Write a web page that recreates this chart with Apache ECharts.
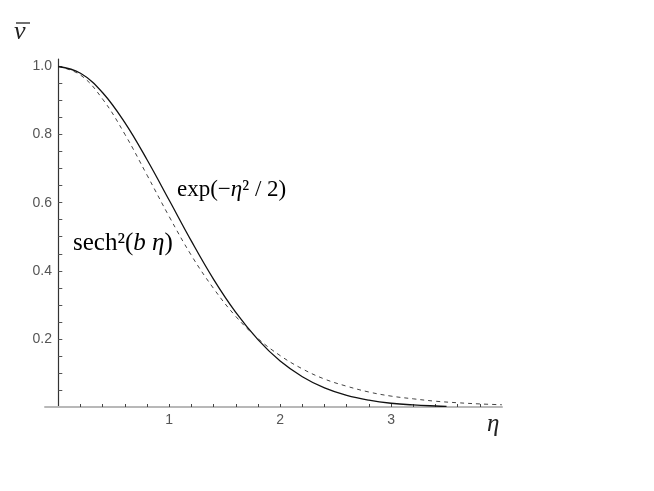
<!DOCTYPE html>
<html><head><meta charset="utf-8">
<script src="https://cdn.jsdelivr.net/npm/echarts@6/dist/echarts.min.js"></script>
<style>html,body{margin:0;padding:0;background:#fff}#c{width:654px;height:491px}</style>
</head><body><div id="c"></div>
<script>
// eta positions and curve values
const etaSolid = [0,0.2,0.4,0.6,0.8,1.0,1.2,1.4,1.6,1.8,2.0,2.2,2.4,2.6,2.8,3.0,3.2,3.4,3.5];
const expValues = [1.0,0.980,0.923,0.835,0.726,0.607,0.487,0.375,0.278,0.198,0.135,0.089,0.056,0.034,0.020,0.011,0.006,0.003,0.002];
const etaDashed = [0,0.2,0.4,0.6,0.8,1.0,1.2,1.4,1.6,1.8,2.0,2.2,2.4,2.6,2.8,3.0,3.2,3.4,3.6,3.8,4.0];
const sechValues = [1.0,0.975,0.904,0.801,0.681,0.559,0.445,0.348,0.266,0.201,0.151,0.112,0.082,0.061,0.044,0.032,0.024,0.017,0.0125,0.009,0.0066];
const xTickValues = [0.2,0.4,0.6,0.8,1,1.2,1.4,1.6,1.8,2,2.2,2.4,2.6,2.8,3,3.2,3.4,3.6,3.8];
const xLabelValues = [1,2,3];
const yTickValues = [0.05,0.1,0.15,0.2,0.25,0.3,0.35,0.4,0.45,0.5,0.55,0.6,0.65,0.7,0.75,0.8,0.85,0.9,0.95,1.0];
const yLabelValues = [0.2,0.4,0.6,0.8,1.0];

const chart = echarts.init(document.getElementById('c'), null, {renderer:'canvas'});
const zip = (xs, ys) => xs.map((x,i)=>[x, ys[i]]);
chart.setOption({
  animation:false,
  backgroundColor:'#fff',
  grid:{left:45, top:59, width:457, height:348},
  xAxis:{
    type:'value', min:-0.12, max:4.0,
    axisLine:{onZero:true, lineStyle:{color:'#b8b8b8', width:2}},
    axisTick:{show:true, inside:true, length:3, customValues:xTickValues, lineStyle:{color:'#444', width:1}},
    axisLabel:{show:true, customValues:xLabelValues, margin:6, color:'#555', fontSize:14, fontFamily:'Liberation Sans', formatter:v=>String(Math.round(v))},
    splitLine:{show:false}
  },
  yAxis:{
    type:'value', min:0, max:1.022,
    axisLine:{show:true, onZero:true, lineStyle:{color:'#333', width:1.2}},
    axisTick:{show:true, inside:true, length:4, customValues:yTickValues, lineStyle:{color:'#555', width:1}},
    axisLabel:{show:true, customValues:yLabelValues, margin:-7, color:'#555', fontSize:14, fontFamily:'Liberation Sans', formatter:v=>v.toFixed(1)},
    splitLine:{show:false}
  },
  series:[
    {type:'line', data:zip(etaDashed, sechValues), smooth:0.4, showSymbol:false,
     lineStyle:{color:'#444', width:1, type:[4,4]}},
    {type:'line', data:zip(etaSolid, expValues), smooth:0.4, showSymbol:false,
     lineStyle:{color:'#111', width:1.3}}
  ],
  graphic:[
    {type:'line', shape:{x1:16, y1:23, x2:30, y2:23}, style:{stroke:'#222', lineWidth:1.3}},
    {type:'text', style:{x:14, y:32, text:'ν', font:'italic 26px "Liberation Serif"', fill:'#222', verticalAlign:'middle'}},
    {type:'text', style:{x:487, y:424, text:'η', font:'italic 25px "Liberation Serif"', fill:'#222', verticalAlign:'middle'}},
    {type:'text', style:{x:177, y:190, text:'{n|exp(−}{i|η}{n|² / 2)}', verticalAlign:'middle', rich:{
      n:{fontFamily:'Liberation Serif', fontSize:23, color:'#111'},
      i:{fontFamily:'Liberation Serif', fontSize:23, fontStyle:'italic', color:'#111'}}}},
    {type:'text', style:{x:73, y:243, text:'{n|sech²(}{i|b η}{n|)}', verticalAlign:'middle', rich:{
      n:{fontFamily:'Liberation Serif', fontSize:25, color:'#333'},
      i:{fontFamily:'Liberation Serif', fontSize:25, fontStyle:'italic', color:'#333'}}}}
  ]
});
</script></body></html>
